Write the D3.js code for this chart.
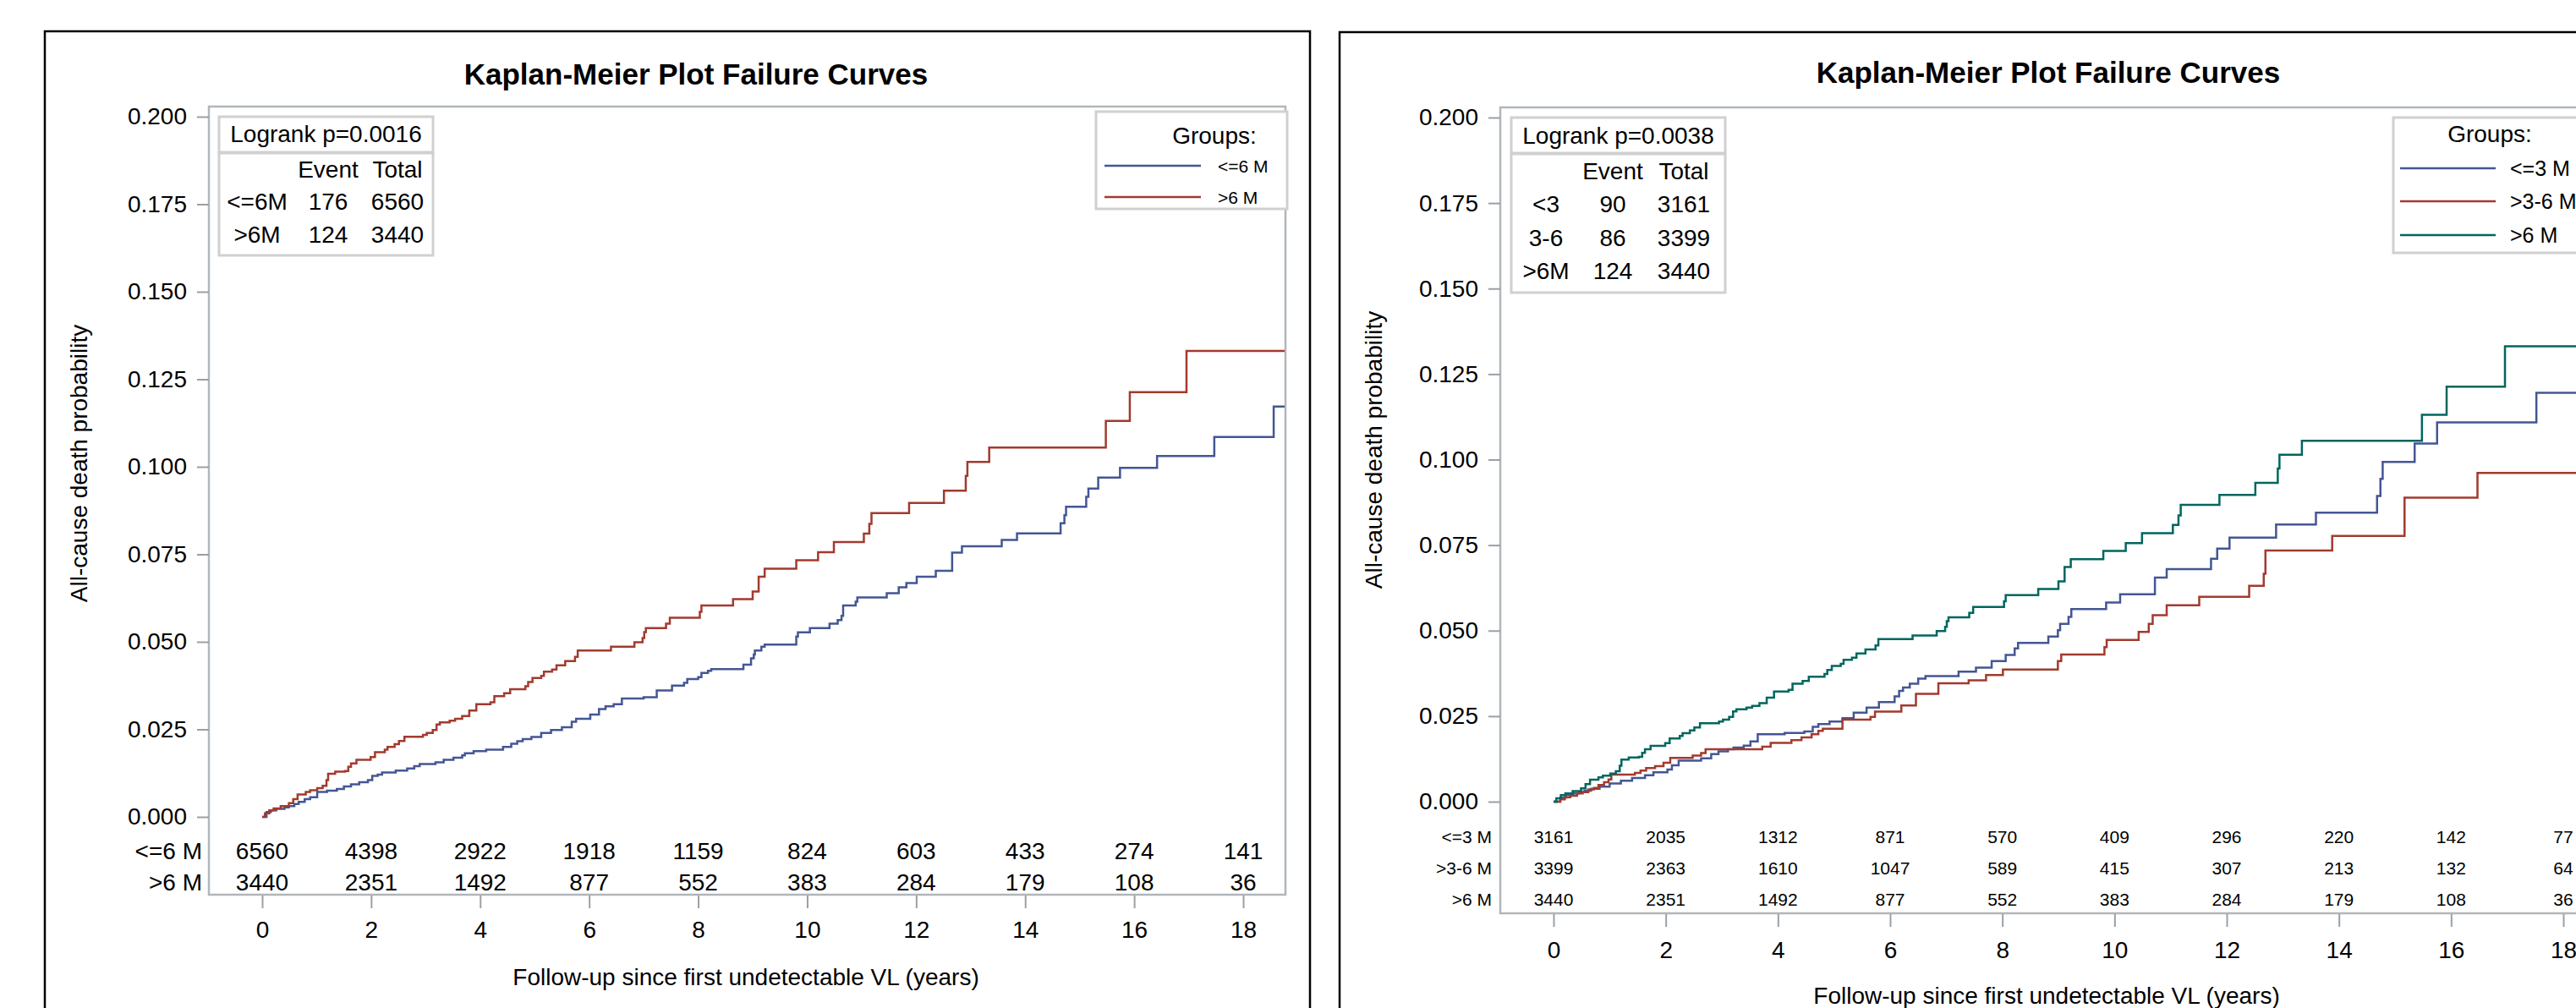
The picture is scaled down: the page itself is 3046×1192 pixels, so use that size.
<!doctype html>
<html>
<head>
<meta charset="utf-8">
<style>
	body {
		margin: 0;
		background: #fff;
		overflow: hidden;
	}
	svg text {
		font-family: "Liberation Sans", Arial, sans-serif;
		fill: #000;
	}
	.title {
		font-size: 35px;
		font-weight: bold;
	}
	.tick-label, .axis-label, .box-text {
		font-size: 28px;
	}
	.frame {
		fill: none;
		stroke: #000;
		stroke-width: 2.5px;
	}
	.wall {
		fill: #fff;
		stroke: #b0b6ba;
		stroke-width: 2.5px;
	}
	.box {
		fill: #fff;
		stroke: #d0d0d0;
		stroke-width: 3px;
	}
	.curve {
		fill: none;
		stroke-width: 2.5px;
	}
</style>
<script src="https://d3js.org/d3.v7.min.js"></script>
</head>
<body>
<div id="canvas"></div>
<script>
	// ---- data ----
	var xTicks = [0, 2, 4, 6, 8, 10, 12, 14, 16, 18],
		yTicks = [0, 0.025, 0.05, 0.075, 0.1, 0.125, 0.15, 0.175, 0.2],
		maxFollowUp = 18.76;

	var colors = ["#445694", "#A23A2E", "#01665E"];

	// cumulative failure steps [years, probability]
	var curveLe6 = [[0,0],[0.08,0.0014],[0.16,0.0019],[0.26,0.0023],[0.41,0.0027],[0.49,0.0031],[0.59,0.0037],[0.67,0.0043],[0.78,0.0051],[0.88,0.0056],[1.01,0.0071],[1.19,0.0075],[1.37,0.0080],[1.50,0.0087],[1.63,0.0093],[1.78,0.0099],[1.94,0.0105],[2.02,0.0117],[2.12,0.0121],[2.20,0.0127],[2.45,0.0132],[2.66,0.0138],[2.79,0.0145],[2.89,0.0151],[3.18,0.0156],[3.33,0.0163],[3.51,0.0169],[3.67,0.0176],[3.72,0.0182],[3.88,0.0188],[4.11,0.0192],[4.42,0.0200],[4.57,0.0209],[4.68,0.0216],[4.78,0.0222],[4.94,0.0228],[5.12,0.0240],[5.30,0.0248],[5.50,0.0256],[5.68,0.0272],[5.76,0.0280],[6.02,0.0292],[6.18,0.0308],[6.30,0.0316],[6.45,0.0322],[6.60,0.0338],[7.00,0.0342],[7.24,0.0361],[7.52,0.0375],[7.74,0.0383],[7.80,0.0394],[8.00,0.0399],[8.06,0.0411],[8.18,0.0417],[8.24,0.0422],[8.83,0.0435],[8.97,0.0453],[9.02,0.0464],[9.04,0.0475],[9.16,0.0486],[9.22,0.0492],[9.80,0.0515],[9.83,0.0527],[10.05,0.0539],[10.41,0.0552],[10.56,0.0562],[10.63,0.0574],[10.66,0.0604],[10.89,0.0615],[10.92,0.0627],[11.46,0.0639],[11.68,0.0656],[11.82,0.0668],[12.01,0.0686],[12.36,0.0703],[12.66,0.0755],[12.84,0.0773],[13.57,0.0791],[13.85,0.0810],[14.65,0.0839],[14.72,0.0862],[14.75,0.0886],[15.12,0.0914],[15.16,0.0938],[15.34,0.0969],[15.74,0.0997],[16.42,0.1031],[17.47,0.1085],[18.56,0.1172]];

	var curveGt6 = [[0,0],[0.05,0.0010],[0.13,0.0019],[0.21,0.0024],[0.34,0.0031],[0.49,0.0039],[0.57,0.0051],[0.65,0.0064],[0.80,0.0071],[0.88,0.0076],[1.01,0.0082],[1.11,0.0089],[1.18,0.0105],[1.21,0.0123],[1.34,0.0129],[1.52,0.0131],[1.58,0.0143],[1.63,0.0153],[1.73,0.0163],[1.99,0.0171],[2.07,0.0185],[2.25,0.0192],[2.30,0.0200],[2.43,0.0208],[2.51,0.0217],[2.61,0.0229],[2.95,0.0234],[3.02,0.0240],[3.13,0.0248],[3.20,0.0264],[3.26,0.0270],[3.44,0.0275],[3.54,0.0280],[3.67,0.0288],[3.80,0.0304],[3.93,0.0322],[4.19,0.0327],[4.26,0.0345],[4.44,0.0353],[4.55,0.0365],[4.83,0.0373],[4.88,0.0385],[4.96,0.0397],[5.12,0.0403],[5.17,0.0415],[5.32,0.0421],[5.40,0.0433],[5.56,0.0445],[5.74,0.0457],[5.79,0.0475],[6.40,0.0486],[6.83,0.0499],[6.98,0.0511],[7.01,0.0528],[7.04,0.0539],[7.41,0.0552],[7.48,0.0569],[8.03,0.0586],[8.06,0.0604],[8.64,0.0622],[9.00,0.0644],[9.11,0.0686],[9.22,0.0709],[9.80,0.0733],[10.20,0.0756],[10.49,0.0785],[11.04,0.0809],[11.14,0.0837],[11.18,0.0868],[11.87,0.0897],[12.51,0.0932],[12.91,0.0974],[12.94,0.1014],[13.34,0.1055],[15.48,0.1131],[15.92,0.1213],[16.96,0.1331]];

	var curveLe3 = [[0,0],[0.12,0.0012],[0.22,0.0020],[0.35,0.0024],[0.45,0.0028],[0.55,0.0032],[0.67,0.0038],[0.82,0.0044],[1.00,0.0053],[1.20,0.0061],[1.40,0.0069],[1.63,0.0077],[1.78,0.0086],[2.03,0.0094],[2.11,0.0106],[2.23,0.0120],[2.63,0.0127],[2.81,0.0139],[2.94,0.0147],[3.11,0.0153],[3.21,0.0158],[3.39,0.0164],[3.51,0.0176],[3.64,0.0197],[4.12,0.0201],[4.47,0.0205],[4.62,0.0219],[4.72,0.0227],[4.92,0.0234],[5.15,0.0244],[5.35,0.0260],[5.58,0.0275],[5.80,0.0291],[6.08,0.0308],[6.16,0.0324],[6.23,0.0334],[6.35,0.0345],[6.50,0.0360],[6.63,0.0367],[7.22,0.0380],[7.53,0.0392],[7.81,0.0411],[8.06,0.0429],[8.22,0.0448],[8.28,0.0464],[8.82,0.0483],[8.99,0.0501],[9.03,0.0520],[9.18,0.0540],[9.23,0.0563],[9.85,0.0582],[10.10,0.0606],[10.72,0.0655],[10.93,0.0680],[11.72,0.0710],[11.83,0.0740],[12.05,0.0772],[12.88,0.0810],[13.59,0.0845],[14.68,0.0894],[14.74,0.0944],[14.78,0.0993],[15.35,0.1047],[15.75,0.1109],[17.52,0.1195]];

	var curveGt3Le6 = [[0,0],[0.12,0.0007],[0.20,0.0013],[0.30,0.0017],[0.42,0.0024],[0.52,0.0028],[0.62,0.0036],[0.72,0.0040],[0.80,0.0049],[0.90,0.0057],[0.98,0.0065],[1.03,0.0079],[1.45,0.0084],[1.55,0.0091],[1.65,0.0098],[1.81,0.0104],[1.96,0.0114],[2.08,0.0128],[2.48,0.0135],[2.63,0.0142],[2.71,0.0153],[3.72,0.0161],[3.87,0.0172],[4.24,0.0180],[4.42,0.0188],[4.60,0.0197],[4.72,0.0207],[4.80,0.0213],[5.15,0.0240],[5.65,0.0248],[5.73,0.0263],[6.20,0.0281],[6.46,0.0315],[6.86,0.0346],[7.40,0.0355],[7.71,0.0370],[8.01,0.0386],[8.99,0.0411],[9.05,0.0430],[9.82,0.0452],[9.86,0.0473],[10.43,0.0496],[10.61,0.0520],[10.68,0.0545],[10.93,0.0574],[11.51,0.0599],[12.40,0.0631],[12.66,0.0666],[12.69,0.0734],[13.88,0.0777],[15.17,0.0889],[16.47,0.0961]];

	// numbers at risk at each x tick
	var riskLe6 = [6560, 4398, 2922, 1918, 1159, 824, 603, 433, 274, 141],
		riskGt6 = [3440, 2351, 1492, 877, 552, 383, 284, 179, 108, 36],
		riskLe3 = [3161, 2035, 1312, 871, 570, 409, 296, 220, 142, 77],
		riskGt3Le6 = [3399, 2363, 1610, 1047, 589, 415, 307, 213, 132, 64];

	var groupsLeft = ["<=6 M", ">6 M"],
		groupsRight = ["<=3 M", ">3-6 M", ">6 M"];

	var logrankLeft = "Logrank p=0.0016",
		logrankRight = "Logrank p=0.0038";
	var eventHeader = ["", "Event", "Total"];
	var eventsLeft = [["<=6M", 176, 6560], [">6M", 124, 3440]],
		eventsRight = [["<3", 90, 3161], ["3-6", 86, 3399], [">6M", 124, 3440]];

	var chartTitle = "Kaplan-Meier Plot Failure Curves",
		yTitle = "All-cause death probability",
		xTitle = "Follow-up since first undetectable VL (years)";

	// ---- layout ----
	var svg = d3.select("#canvas").append("svg")
		.attr("width", 3046)
		.attr("height", 1192);

	var panels = [
		{
			frame: [53, 37, 1549], plot: [247, 126, 1520, 1058],
			x0: 310, x18: 1470, y0: 966, y200: 138,
			titleX: 823, titleY: 100, yTitleX: 93, yTitleY: 548, xTitleX: 882, xTitleY: 1165,
			tickPad: 15, curves: [curveLe6, curveGt6], colors: [colors[0], colors[1]],
			risk: [riskLe6, riskGt6], riskY: [1006, 1043], riskSize: 28, riskLabelX: 239,
			groups: groupsLeft,
			lr: { text: logrankLeft, box: [259, 138, 512, 180, 302], cols: [304, 388, 470], rowsY: [210, 248, 287], headY: 168, rows: eventsLeft },
			lg: { box: [1296, 132, 1522, 247], titleX: 1436, titleY: 170, lineX: [1306, 1420], rowsY: [196, 233], labelX: 1440, size: 21 }
		},
		{
			frame: [1584, 38, 3200], plot: [1774, 127, 3090, 1080],
			x0: 1837, x18: 3031, y0: 948, y200: 139,
			titleX: 2422, titleY: 98, yTitleX: 1624, yTitleY: 532, xTitleX: 2420, xTitleY: 1187,
			tickPad: 17, curves: [curveLe3, curveGt3Le6, curveGt6], colors: colors,
			risk: [riskLe3, riskGt3Le6, riskGt6], riskY: [989, 1026, 1063], riskSize: 21, riskLabelX: 1764,
			groups: groupsRight,
			lr: { text: logrankRight, box: [1787, 139, 2040, 181, 346], cols: [1828, 1907, 1991], rowsY: [212, 251, 291, 330], headY: 170, rows: eventsRight },
			lg: { box: [2830, 139, 3200, 299], titleX: 2944, titleY: 168, lineX: [2838, 2951], rowsY: [199, 238, 278], labelX: 2968, size: 25 }
		}
	];

	var draw_panel = function(p) {
		var g = svg.append("g");

		var x = d3.scaleLinear().domain([0, 18]).range([p.x0, p.x18]),
			y = d3.scaleLinear().domain([0, 0.2]).range([p.y0, p.y200]);

		g.append("rect")
			.attr("class", "frame")
			.attr("x", p.frame[0])
			.attr("y", p.frame[1])
			.attr("width", p.frame[2] - p.frame[0])
			.attr("height", 1400);

		g.append("text")
			.attr("class", "title")
			.attr("x", p.titleX)
			.attr("y", p.titleY)
			.attr("text-anchor", "middle")
			.text(chartTitle);

		g.append("rect")
			.attr("class", "wall")
			.attr("x", p.plot[0])
			.attr("y", p.plot[1])
			.attr("width", p.plot[2] - p.plot[0])
			.attr("height", p.plot[3] - p.plot[1]);

		// axes
		var ay = g.append("g")
			.attr("transform", `translate(${p.plot[0]}, 0)`)
			.call(d3.axisLeft(y).tickValues(yTicks).tickSize(14).tickPadding(12).tickFormat(d3.format(".3f")));
		ay.select(".domain").remove();

		var ax = g.append("g")
			.attr("transform", `translate(0, ${p.plot[3] + 1})`)
			.call(d3.axisBottom(x).tickValues(xTicks).tickSize(15).tickPadding(p.tickPad));
		ax.select(".domain").remove();

		g.selectAll(".tick line").attr("stroke", "#9aa0a4").attr("stroke-width", 2);
		g.selectAll(".tick text").attr("class", "tick-label").attr("fill", "#000");

		// step curves
		var line = d3.line()
			.x(d => x(d[0]))
			.y(d => y(d[1]))
			.curve(d3.curveStepAfter);

		p.curves.forEach(function(c, i) {
			var pts = c.concat([[maxFollowUp, c[c.length - 1][1]]]);
			g.append("path")
				.attr("class", "curve")
				.attr("stroke", p.colors[i])
				.attr("d", line(pts));
		});

		// at-risk table
		p.risk.forEach(function(r, i) {
			g.selectAll(null)
				.data(r).enter()
				.append("text")
				.attr("x", (d, j) => x(xTicks[j]))
				.attr("y", p.riskY[i])
				.attr("dy", "0.36em")
				.attr("text-anchor", "middle")
				.style("font-size", p.riskSize + "px")
				.text(d => d);

			g.append("text")
				.attr("x", p.riskLabelX)
				.attr("y", p.riskY[i])
				.attr("dy", "0.36em")
				.attr("text-anchor", "end")
				.style("font-size", p.riskSize + "px")
				.text(p.groups[i]);
		});

		// axis titles
		g.append("text")
			.attr("class", "axis-label")
			.attr("transform", `translate(${p.yTitleX}, ${p.yTitleY}) rotate(-90)`)
			.attr("dy", "0.36em")
			.attr("text-anchor", "middle")
			.text(yTitle);

		g.append("text")
			.attr("class", "axis-label")
			.attr("x", p.xTitleX)
			.attr("y", p.xTitleY)
			.attr("text-anchor", "middle")
			.text(xTitle);

		// logrank inset
		var b = p.lr.box;
		g.append("rect").attr("class", "box")
			.attr("x", b[0]).attr("y", b[1]).attr("width", b[2] - b[0]).attr("height", b[3] - b[1]);
		g.append("rect").attr("class", "box")
			.attr("x", b[0]).attr("y", b[3] + 1).attr("width", b[2] - b[0]).attr("height", b[4] - b[3] - 1);
		g.append("text").attr("class", "box-text")
			.attr("x", (b[0] + b[2]) / 2).attr("y", p.lr.headY)
			.attr("text-anchor", "middle")
			.text(p.lr.text);

		[eventHeader].concat(p.lr.rows).forEach(function(row, i) {
			row.forEach(function(cell, j) {
				g.append("text").attr("class", "box-text")
					.attr("x", p.lr.cols[j])
					.attr("y", p.lr.rowsY[i])
					.attr("text-anchor", "middle")
					.text(cell);
			});
		});

		// group legend
		var lb = p.lg.box;
		g.append("rect").attr("class", "box")
			.attr("x", lb[0]).attr("y", lb[1]).attr("width", lb[2] - lb[0]).attr("height", lb[3] - lb[1]);
		g.append("text").attr("class", "box-text")
			.attr("x", p.lg.titleX).attr("y", p.lg.titleY)
			.attr("text-anchor", "middle")
			.text("Groups:");
		p.groups.forEach(function(name, i) {
			g.append("line")
				.attr("x1", p.lg.lineX[0]).attr("x2", p.lg.lineX[1])
				.attr("y1", p.lg.rowsY[i]).attr("y2", p.lg.rowsY[i])
				.attr("stroke", p.colors[i])
				.attr("stroke-width", 2.5);
			g.append("text")
				.attr("x", p.lg.labelX).attr("y", p.lg.rowsY[i])
				.attr("dy", "0.36em")
				.style("font-size", p.lg.size + "px")
				.text(name);
		});
	};

	panels.forEach(draw_panel);
</script>
</body>
</html>
